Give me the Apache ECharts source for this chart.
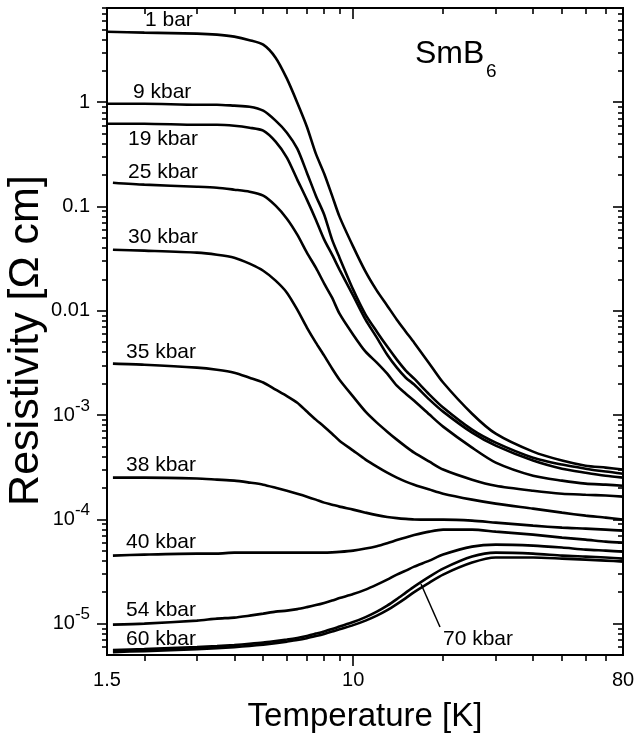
<!DOCTYPE html>
<html><head><meta charset="utf-8">
<script src="https://cdn.jsdelivr.net/npm/echarts@6/dist/echarts.min.js"></script>
<style>html,body{margin:0;padding:0;background:#fff}#c{width:636px;height:739px}</style>
</head><body><div id="c"></div>
<script>
// ---------- data ----------
const temperatureFull = [1.5, 2, 3, 3.5, 4, 4.5, 5, 5.5, 6, 6.5, 7, 7.5, 8, 8.5, 9, 10, 11, 12, 13, 14, 15, 16, 18, 20, 25, 30, 40, 50, 60, 70, 80];
const temperatureHigh = [1.57, 2, 3, 3.5, 4, 4.5, 5, 5.5, 6, 6.5, 7, 7.5, 8, 8.5, 9, 10, 11, 12, 13, 14, 15, 16, 18, 20, 25, 30, 40, 50, 60, 70, 80];

const rho_1bar = [4.74, 4.64, 4.54, 4.44, 4.25, 3.93, 3.56, 2.67, 1.68, 0.989, 0.582, 0.321, 0.206, 0.127, 0.0799, 0.0412, 0.0237, 0.01558, 0.01119, 8.21e-3, 6.30e-3, 4.94e-3, 3.11e-3, 2.05e-3, 1.03e-3, 6.63e-4, 4.46e-4, 3.66e-4, 3.27e-4, 3.13e-4, 3.00e-4];
const rho_9kbar = [0.967, 0.967, 0.946, 0.946, 0.926, 0.905, 0.829, 0.665, 0.510, 0.358, 0.211, 0.127, 0.0834, 0.0481, 0.0323, 0.01594, 9.18e-3, 6.30e-3, 4.53e-3, 3.40e-3, 2.67e-3, 2.23e-3, 1.57e-3, 1.18e-3, 7.24e-4, 5.44e-4, 3.90e-4, 3.35e-4, 3.06e-4, 2.87e-4, 2.74e-4];
const rho_19kbar = [0.622, 0.622, 0.608, 0.608, 0.595, 0.569, 0.533, 0.418, 0.294, 0.181, 0.1162, 0.0747, 0.0481, 0.0345, 0.0248, 0.01396, 8.21e-3, 5.52e-3, 3.79e-3, 2.85e-3, 2.28e-3, 1.96e-3, 1.405e-3, 1.078e-3, 6.78e-4, 5.09e-4, 3.66e-4, 3.06e-4, 2.80e-4, 2.62e-4, 2.51e-4];
const rho_25kbar = [0.169, 0.1618, 0.1548, 0.1514, 0.1449, 0.1386, 0.127, 0.1018, 0.0764, 0.0537, 0.0361, 0.0259, 0.0182, 0.01335, 9.38e-3, 5.90e-3, 4.05e-3, 3.18e-3, 2.49e-3, 1.91e-3, 1.60e-3, 1.37e-3, 1.01e-3, 7.74e-4, 4.87e-4, 3.50e-4, 2.62e-4, 2.35e-4, 2.20e-4, 2.15e-4, 2.10e-4];
const rho_30kbar = [0.0385, 0.0377, 0.0361, 0.0345, 0.0323, 0.0283, 0.0242, 0.01943, 0.01491, 0.01024, 6.89e-3, 4.94e-3, 3.71e-3, 2.79e-3, 2.18e-3, 1.50e-3, 1.078e-3, 8.46e-4, 6.93e-4, 5.81e-4, 4.98e-4, 4.36e-4, 3.57e-4, 3.00e-4, 2.40e-4, 2.10e-4, 1.88e-4, 1.76e-4, 1.72e-4, 1.69e-4, 1.65e-4];
const rho_35kbar = [3.11e-3, 3.04e-3, 2.85e-3, 2.72e-3, 2.55e-3, 2.28e-3, 2.05e-3, 1.75e-3, 1.52e-3, 1.31e-3, 1.08e-3, 9.04e-4, 7.73e-4, 6.62e-4, 5.68e-4, 4.56e-4, 3.74e-4, 3.20e-4, 2.80e-4, 2.51e-4, 2.30e-4, 2.15e-4, 1.93e-4, 1.76e-4, 1.545e-4, 1.414e-4, 1.266e-4, 1.159e-4, 1.085e-4, 1.038e-4, 9.93e-5];
const rho_38kbar = [2.51e-4, 2.51e-4, 2.46e-4, 2.40e-4, 2.35e-4, 2.25e-4, 2.15e-4, 2.01e-4, 1.88e-4, 1.76e-4, 1.65e-4, 1.545e-4, 1.446e-4, 1.383e-4, 1.324e-4, 1.239e-4, 1.159e-4, 1.097e-4, 1.054e-4, 1.027e-4, 1.009e-4, 9.97e-5, 9.93e-5, 9.93e-5, 9.72e-5, 9.30e-5, 8.70e-5, 8.32e-5, 8.14e-5, 7.96e-5, 7.79e-5];
const rho_40kbar = [4.49e-5, 4.59e-5, 4.69e-5, 4.69e-5, 4.79e-5, 4.79e-5, 4.79e-5, 4.79e-5, 4.79e-5, 4.79e-5, 4.79e-5, 4.79e-5, 4.79e-5, 4.82e-5, 4.87e-5, 5.01e-5, 5.24e-5, 5.53e-5, 5.91e-5, 6.32e-5, 6.71e-5, 7.06e-5, 7.62e-5, 7.96e-5, 7.96e-5, 7.62e-5, 7.13e-5, 6.68e-5, 6.39e-5, 6.11e-5, 5.98e-5];
const rho_54kbar = [9.78e-6, 1.00e-5, 1.069e-5, 1.117e-5, 1.142e-5, 1.193e-5, 1.247e-5, 1.303e-5, 1.332e-5, 1.377e-5, 1.439e-5, 1.505e-5, 1.579e-5, 1.662e-5, 1.756e-5, 1.918e-5, 2.118e-5, 2.366e-5, 2.642e-5, 2.951e-5, 3.222e-5, 3.520e-5, 4.018e-5, 4.59e-5, 5.47e-5, 5.72e-5, 5.60e-5, 5.36e-5, 5.12e-5, 5.01e-5, 4.90e-5];
const rho_60kbar = [5.57e-6, 5.69e-6, 5.95e-6, 6.08e-6, 6.22e-6, 6.39e-6, 6.57e-6, 6.80e-6, 7.03e-6, 7.29e-6, 7.62e-6, 8.02e-6, 8.42e-6, 8.86e-6, 9.36e-6, 1.034e-5, 1.154e-5, 1.303e-5, 1.488e-5, 1.718e-5, 1.983e-5, 2.263e-5, 2.822e-5, 3.368e-5, 4.39e-5, 4.79e-5, 4.69e-5, 4.49e-5, 4.39e-5, 4.30e-5, 4.20e-5];
const rho_70kbar = [5.33e-6, 5.45e-6, 5.69e-6, 5.82e-6, 5.95e-6, 6.11e-6, 6.29e-6, 6.50e-6, 6.72e-6, 6.95e-6, 7.24e-6, 7.59e-6, 7.96e-6, 8.38e-6, 8.84e-6, 9.67e-6, 1.069e-5, 1.193e-5, 1.347e-5, 1.538e-5, 1.756e-5, 2.005e-5, 2.472e-5, 2.951e-5, 3.845e-5, 4.30e-5, 4.30e-5, 4.20e-5, 4.11e-5, 4.02e-5, 3.93e-5];

const seriesNames = ['1 bar', '9 kbar', '19 kbar', '25 kbar', '30 kbar', '35 kbar', '38 kbar', '40 kbar', '54 kbar', '60 kbar', '70 kbar'];

// axis ticks / labels
const xLabelValues = [1.5, 10, 80];
const xMajorTicks = [10];
const xMinorTicks = [2, 3, 4, 5, 6, 7, 8, 9, 20, 30, 40, 50, 60, 70];
const yLabelValues = [1e-5, 1e-4, 1e-3, 0.01, 0.1, 1];
const yMinorTicks = [6e-6, 7e-6, 8e-6, 9e-6,
  2e-5, 3e-5, 4e-5, 5e-5, 6e-5, 7e-5, 8e-5, 9e-5,
  2e-4, 3e-4, 4e-4, 5e-4, 6e-4, 7e-4, 8e-4, 9e-4,
  2e-3, 3e-3, 4e-3, 5e-3, 6e-3, 7e-3, 8e-3, 9e-3,
  0.02, 0.03, 0.04, 0.05, 0.06, 0.07, 0.08, 0.09,
  0.2, 0.3, 0.4, 0.5, 0.6, 0.7, 0.8, 0.9,
  2, 3, 4, 5, 6, 7, 8];

// ---------- chart ----------
const FONT = '"Liberation Sans", Arial, Helvetica, sans-serif';
const seriesData = [
  [temperatureFull, rho_1bar], [temperatureFull, rho_9kbar], [temperatureFull, rho_19kbar],
  [temperatureHigh, rho_25kbar], [temperatureHigh, rho_30kbar], [temperatureHigh, rho_35kbar],
  [temperatureHigh, rho_38kbar], [temperatureHigh, rho_40kbar], [temperatureHigh, rho_54kbar],
  [temperatureHigh, rho_60kbar], [temperatureHigh, rho_70kbar]
];

const X_MIN = 1.5, X_MAX = 80, Y_MIN = 5e-6, Y_MAX = 8;
const black = '#000';
function xAx(pos, ticks, len, inside, extra) {
  return Object.assign({
    type: 'log', logBase: 10, min: X_MIN, max: X_MAX, position: pos,
    splitLine: { show: false },
    axisLine: { show: true, onZero: false, lineStyle: { color: black, width: 2 } },
    axisTick: { show: true, customValues: ticks, length: len, inside: inside, lineStyle: { color: black, width: 1.6 } },
    axisLabel: { show: false }
  }, extra || {});
}
function yAx(pos, ticks, len, inside, extra) {
  return Object.assign({
    type: 'log', logBase: 10, min: Y_MIN, max: Y_MAX, position: pos,
    splitLine: { show: false },
    axisLine: { show: true, onZero: false, lineStyle: { color: black, width: 2 } },
    axisTick: { show: true, customValues: ticks, length: len, inside: inside, lineStyle: { color: black, width: 1.6 } },
    axisLabel: { show: false }
  }, extra || {});
}

const chart = echarts.init(document.getElementById('c'), null, { renderer: 'canvas' });
const option = {
  animation: false,
  backgroundColor: '#fff',
  grid: { left: 107, right: 13, top: 8, bottom: 84, containLabel: false, outerBoundsMode: 'none' },
  xAxis: [
    xAx('bottom', xMajorTicks, 11, false, {
      axisLabel: { show: true, customValues: xLabelValues, fontSize: 20, fontFamily: FONT, color: black, margin: 15,
        formatter: v => String(+(+v).toPrecision(3)) },
      name: 'Temperature [K]', nameLocation: 'middle', nameGap: 45, nameMoveOverlap: false,
      nameTextStyle: { fontSize: 33, fontFamily: FONT, color: black }
    }),
    xAx('bottom', xMinorTicks, 6, false),
    xAx('top', xMajorTicks, 11, true),
    xAx('top', xMinorTicks, 6, true)
  ],
  yAxis: [
    yAx('left', yLabelValues, 10, false, {
      axisLabel: { show: true, customValues: yLabelValues, fontSize: 20, fontFamily: FONT, color: black, margin: 17,
        formatter: v => {
          const e = Math.round(Math.log10(v));
          if (e >= -2) return String(+(+v).toPrecision(3));
          return '10{sup|' + e + '}';
        },
        rich: { sup: { fontSize: 17, fontFamily: FONT, color: black, padding: [0, 0, 18, 0] } }
      },
      name: 'Resistivity [Ω cm]', nameLocation: 'middle', nameGap: 59, nameMoveOverlap: false,
      nameTextStyle: { fontSize: 43, fontFamily: FONT, color: black, padding: [0, 18, 0, 0] }
    }),
    yAx('left', yMinorTicks, 5, false),
    yAx('right', yLabelValues, 10, true),
    yAx('right', yMinorTicks, 5, true)
  ],
  series: seriesData.map((d, k) => ({
    type: 'line', name: seriesNames[k], xAxisIndex: 0, yAxisIndex: 0,
    data: d[0].map((t, i) => [t, d[1][i]]),
    smooth: 0.25,
    symbol: 'none', showSymbol: false,
    lineStyle: { color: black, width: 2.6 },
    silent: true, z: 2
  })),
  graphic: [
    ...[
      ['1 bar', 145, 28], ['9 kbar', 133, 100], ['19 kbar', 128, 147], ['25 kbar', 128, 180],
      ['30 kbar', 128, 245], ['35 kbar', 126, 360], ['38 kbar', 126, 473], ['40 kbar', 126, 550],
      ['54 kbar', 126, 618], ['60 kbar', 126, 647], ['70 kbar', 443, 647]
    ].map(([t, x, b]) => ({
      type: 'text', x: x, y: b - 7.4, z: 10,
      style: { text: t, fill: black, font: '21px ' + FONT, align: 'left', verticalAlign: 'middle' }
    })),
    { type: 'text', x: 415, y: 65 - 11.2, z: 10,
      style: { text: 'SmB', fill: black, font: '32px ' + FONT, align: 'left', verticalAlign: 'middle' } },
    { type: 'text', x: 486, y: 78 - 6.6, z: 10,
      style: { text: '6', fill: black, font: '19px ' + FONT, align: 'left', verticalAlign: 'middle' } },
    { type: 'line', z: 10, shape: { x1: 440, y1: 627, x2: 421, y2: 584 }, style: { stroke: black, lineWidth: 1.5 } }
  ]
};
chart.setOption(option);
</script></body></html>
